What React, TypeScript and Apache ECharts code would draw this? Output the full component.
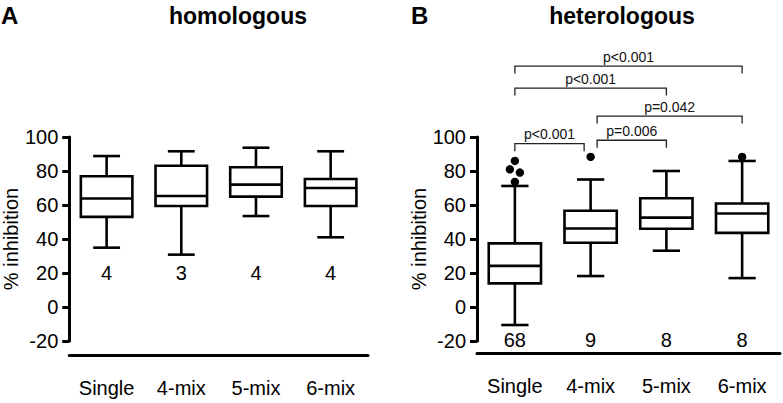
import React, { useEffect, useRef } from "react";
import * as echarts from "echarts";

const categories = ["Single", "4-mix", "5-mix", "6-mix"];

// Panel A: homologous
const homMin = [34.9, 30.8, 53.5, 41.0];
const homQ1 = [53.0, 59.4, 64.9, 59.4];
const homMedian = [63.8, 65.3, 72.0, 70.0];
const homQ3 = [76.9, 83.1, 82.2, 75.3];
const homMax = [88.8, 91.6, 93.7, 91.6];
const homN = [4, 3, 4, 4];

// Panel B: heterologous
const hetMin = [-10.6, 18.2, 33.1, 17.0];
const hetQ1 = [13.9, 37.8, 46.0, 43.6];
const hetMedian = [24.2, 46.2, 52.6, 55.0];
const hetQ3 = [37.4, 56.6, 64.0, 60.9];
const hetMax = [71.2, 75.0, 80.0, 85.9];
const hetN = [68, 9, 8, 8];
const hetOutlierCategory = [0, 0, 0, 0, 1, 3];
const hetOutlierValue = [85.9, 81.0, 79.1, 73.6, 88.3, 88.3];

// Significance comparisons (panel B)
const comparisonFrom = [0, 0, 1, 0, 1];
const comparisonTo = [3, 2, 3, 1, 2];
const comparisonLevel = [141.7, 128.8, 112.3, 96.1, 98.1];
const comparisonLabel = ["p<0.001", "p<0.001", "p=0.042", "p<0.001", "p=0.006"];

// Axis
const yMin = -20;
const yMax = 100;
const yInterval = 20;
const homNLabelValue = 20;
const hetNLabelValue = -19.5;

const FONT = "'Liberation Sans', Arial, Helvetica, sans-serif";

function boxData(mins: number[], q1: number[], med: number[], q3: number[], maxs: number[], ns: number[], labelY: number) {
  return categories.map((_, i) => [i, mins[i], q1[i], med[i], q3[i], maxs[i], ns[i], labelY]);
}

function renderBox(params: any, api: any) {
  const cat = api.value(0);
  const band = api.size([1, 0])[0];
  const x = api.coord([cat, 0])[0];
  const yMinP = api.coord([cat, api.value(1)])[1];
  const yQ1 = api.coord([cat, api.value(2)])[1];
  const yMed = api.coord([cat, api.value(3)])[1];
  const yQ3 = api.coord([cat, api.value(4)])[1];
  const yMaxP = api.coord([cat, api.value(5)])[1];
  const yLab = api.coord([cat, api.value(7)])[1];
  const halfBox = band * 0.345;
  const halfCap = band * 0.18;
  const ls = { stroke: "#000", lineWidth: 2.6, fill: null };
  return {
    type: "group",
    children: [
      { type: "line", shape: { x1: x, y1: yMaxP, x2: x, y2: yQ3 }, style: ls },
      { type: "line", shape: { x1: x, y1: yQ1, x2: x, y2: yMinP }, style: ls },
      { type: "line", shape: { x1: x - halfCap, y1: yMaxP, x2: x + halfCap, y2: yMaxP }, style: ls },
      { type: "line", shape: { x1: x - halfCap, y1: yMinP, x2: x + halfCap, y2: yMinP }, style: ls },
      {
        type: "rect",
        shape: { x: x - halfBox, y: yQ3, width: halfBox * 2, height: yQ1 - yQ3 },
        style: { stroke: "#000", lineWidth: 2.6, fill: "#fff" },
      },
      { type: "line", shape: { x1: x - halfBox, y1: yMed, x2: x + halfBox, y2: yMed }, style: ls },
      {
        type: "text",
        x: x,
        y: yLab,
        style: {
          text: String(api.value(6)),
          fontSize: 20,
          fontFamily: FONT,
          fill: "#000",
          align: "center",
          verticalAlign: "middle",
        },
      },
    ],
  };
}

function renderOutlier(params: any, api: any) {
  const idx = params.dataIndex;
  const cat = hetOutlierCategory[idx];
  const candidates = [0, -5, 5, -10, 10];
  const placed: number[][] = [];
  let myPos: number[] = [0, 0];
  for (let j = 0; j <= idx; j++) {
    if (hetOutlierCategory[j] !== cat) continue;
    const p = api.coord([cat, hetOutlierValue[j]]);
    let chosen = p[0];
    for (const dx of candidates) {
      const px = p[0] + dx;
      const ok = placed.every((q) => Math.hypot(q[0] - px, q[1] - p[1]) >= 9);
      if (ok) {
        chosen = px;
        break;
      }
    }
    placed.push([chosen, p[1]]);
    if (j === idx) myPos = [chosen, p[1]];
  }
  return {
    type: "circle",
    shape: { cx: myPos[0], cy: myPos[1], r: 4.2 },
    style: { fill: "#000" },
  };
}

function renderBracket(params: any, api: any) {
  const idx = params.dataIndex;
  const from = comparisonFrom[idx];
  const to = comparisonTo[idx];
  const level = comparisonLevel[idx];
  const a = api.coord([from, level]);
  const b = api.coord([to, level]);
  const shared = (c: number) => comparisonFrom.includes(c) && comparisonTo.includes(c);
  const ax = a[0] + (shared(from) ? 6.5 : 0);
  const bx = b[0] - (shared(to) ? 6.5 : 0);
  const y = a[1];
  const drop = 7.5;
  return {
    type: "group",
    children: [
      {
        type: "polyline",
        shape: { points: [[ax, y + drop], [ax, y], [bx, y], [bx, y + drop]] },
        style: { stroke: "#222", lineWidth: 1.3, fill: null },
      },
      {
        type: "text",
        x: (ax + bx) / 2,
        y: y - 9.5,
        style: {
          text: comparisonLabel[idx],
          fontSize: 14,
          fontFamily: FONT,
          fill: "#111",
          align: "center",
          verticalAlign: "middle",
        },
      },
    ],
  };
}

function yAxisCfg(gridIndex: number) {
  return {
    type: "value",
    gridIndex,
    min: yMin,
    max: yMax,
    interval: yInterval,
    name: "% inhibition",
    nameLocation: "middle",
    nameGap: 46,
    nameTextStyle: { fontSize: 20, color: "#000", fontFamily: FONT },
    splitLine: { show: false },
    axisLine: { show: true, onZero: false, lineStyle: { color: "#000", width: 3 } },
    axisTick: { show: true, length: 7, lineStyle: { color: "#000", width: 3 } },
    axisLabel: { fontSize: 20, color: "#000", fontFamily: FONT, margin: 11 },
  };
}

function xAxisCfg(gridIndex: number, offset: number) {
  return {
    type: "category",
    gridIndex,
    data: categories,
    offset,
    axisLine: { show: true, onZero: false, lineStyle: { color: "#000", width: 3 } },
    axisTick: { show: false },
    axisLabel: { fontSize: 20, color: "#000", fontFamily: FONT, margin: 23 },
    splitLine: { show: false },
  };
}

export default function App() {
  const ref = useRef<HTMLDivElement>(null);
  useEffect(() => {
    if (!ref.current) return;
    const chart = echarts.init(ref.current, null, { renderer: "svg" });
    chart.setOption({
      animation: false,
      backgroundColor: "#fff",
      textStyle: { fontFamily: FONT },
      grid: [
        { left: 65, top: 137, width: 303, height: 204 },
        { left: 477, top: 137, width: 303, height: 204 },
      ],
      xAxis: [xAxisCfg(0, 14), xAxisCfg(1, 12)],
      yAxis: [yAxisCfg(0), yAxisCfg(1)],
      graphic: [
        { type: "text", x: 1, y: 15, style: { text: "A", fontSize: 24, fontWeight: "bold", fontFamily: FONT, fill: "#000", verticalAlign: "middle" } },
        { type: "text", x: 238, y: 16, style: { text: "homologous", fontSize: 23, fontWeight: "bold", fontFamily: FONT, fill: "#000", align: "center", verticalAlign: "middle" } },
        { type: "text", x: 411, y: 15, style: { text: "B", fontSize: 24, fontWeight: "bold", fontFamily: FONT, fill: "#000", verticalAlign: "middle" } },
        { type: "text", x: 622, y: 16, style: { text: "heterologous", fontSize: 23, fontWeight: "bold", fontFamily: FONT, fill: "#000", align: "center", verticalAlign: "middle" } },
      ],
      series: [
        {
          type: "custom",
          xAxisIndex: 0,
          yAxisIndex: 0,
          renderItem: renderBox,
          data: boxData(homMin, homQ1, homMedian, homQ3, homMax, homN, homNLabelValue),
          clip: false,
        },
        {
          type: "custom",
          xAxisIndex: 1,
          yAxisIndex: 1,
          renderItem: renderBox,
          data: boxData(hetMin, hetQ1, hetMedian, hetQ3, hetMax, hetN, hetNLabelValue),
          clip: false,
        },
        {
          type: "custom",
          xAxisIndex: 1,
          yAxisIndex: 1,
          renderItem: renderOutlier,
          data: hetOutlierValue.map((v, i) => [hetOutlierCategory[i], v]),
          clip: false,
          z: 3,
        },
        {
          type: "custom",
          xAxisIndex: 1,
          yAxisIndex: 1,
          renderItem: renderBracket,
          data: comparisonLevel.map((lv, i) => [comparisonFrom[i], lv]),
          clip: false,
        },
      ],
    });
    return () => chart.dispose();
  }, []);
  return <div ref={ref} style={{ position: "fixed", left: 0, top: 0, width: 783, height: 403 }} />;
}
